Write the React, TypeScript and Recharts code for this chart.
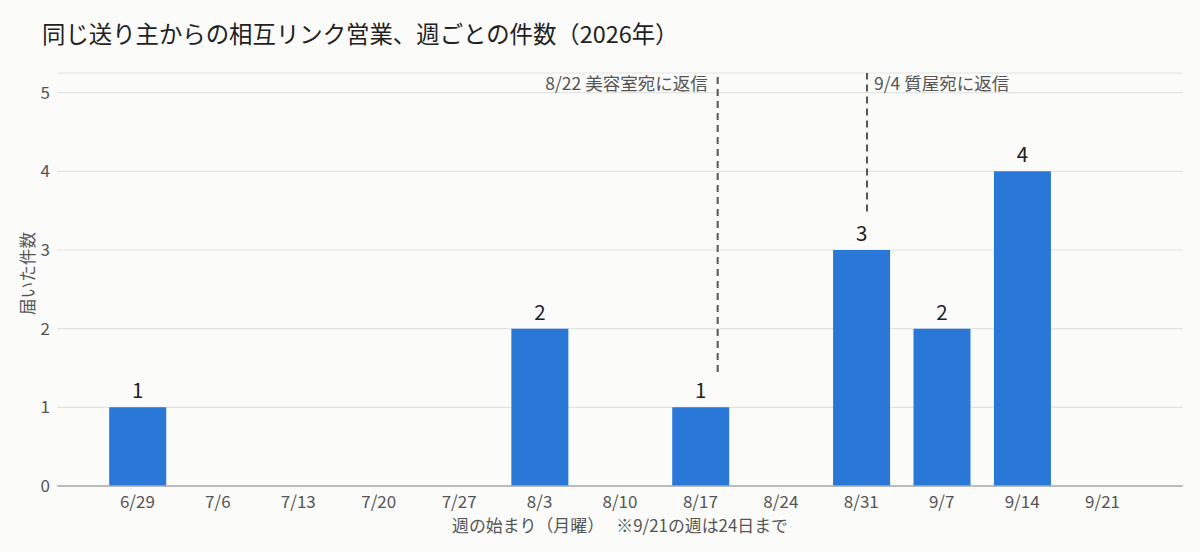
import React from 'react';
import { BarChart, Bar, XAxis, YAxis, CartesianGrid, LabelList, ReferenceLine } from 'recharts';

const weekLabels = ['6/29', '7/6', '7/13', '7/20', '7/27', '8/3', '8/10', '8/17', '8/24', '8/31', '9/7', '9/14', '9/21'];
const weekDays = [0, 7, 14, 21, 28, 35, 42, 49, 56, 63, 70, 77, 84];
const counts = [1, 0, 0, 0, 0, 2, 0, 1, 0, 3, 2, 4, 0];

const noteTexts = ['8/22 美容室宛に返信', '9/4 質屋宛に返信'];
const noteDays = [50.5, 63.5];
const noteBottoms = [1.45, 3.49];
const noteSides = ['left', 'right'];

const yTicks = [0, 1, 2, 3, 4, 5];
const Y_MAX = 5.25;

const TITLE = '同じ送り主からの相互リンク営業、週ごとの件数（2026年）';
const X_LABEL = '週の始まり（月曜）\u3000\u00A0※9/21の週は24日まで';
const Y_LABEL = '届いた件数';

const FONT = '"Noto Sans CJK JP", "Noto Sans", sans-serif';

const rows = weekLabels.map((w, i) => ({ week: w, day: weekDays[i], count: counts[i] }));

const labelForDay = (d: number) => {
  const i = weekDays.indexOf(d);
  return i >= 0 ? weekLabels[i] : '';
};

const ValueLabel = (props: any) => {
  const { x, y, width, value } = props;
  if (!value) return null;
  return (
    <text x={Number(x) + Number(width) / 2} y={Number(y) - 9} textAnchor="middle" fontSize={20.5} fill="#222" fontFamily={FONT}>
      {value}
    </text>
  );
};

const makeNoteLabel = (text: string, side: string) => (props: any) => {
  const vb = props.viewBox || {};
  const x = Number(vb.x);
  const y = Number(vb.y);
  return (
    <text
      x={side === 'left' ? x - 10 : x + 7}
      y={y + 17}
      textAnchor={side === 'left' ? 'end' : 'start'}
      fontSize={17.5}
      fill="#555"
      fontFamily={FONT}
    >
      {text}
    </text>
  );
};

const XAxisLabel = (props: any) => {
  const vb = props.viewBox || {};
  return (
    <text x={vb.x + vb.width / 2} y={vb.y + 46} textAnchor="middle" fontSize={16.9} fill="#555" fontFamily={FONT}>
      {X_LABEL}
    </text>
  );
};

const YAxisLabel = (props: any) => {
  const vb = props.viewBox || {};
  const cx = vb.x + 27;
  const cy = vb.y + vb.height / 2 - 6;
  return (
    <text
      x={cx}
      y={cy}
      transform={`rotate(-90 ${cx} ${cy})`}
      textAnchor="middle"
      dominantBaseline="central"
      fontSize={16.6}
      fill="#555"
      fontFamily={FONT}
    >
      {Y_LABEL}
    </text>
  );
};

export default function App() {
  return (
    <div
      style={{
        position: 'absolute',
        left: 0,
        top: 0,
        width: 1200,
        height: 552,
        background: '#fbfbf9',
        fontFamily: FONT,
        overflow: 'hidden',
      }}
    >
      <div
        style={{
          position: 'absolute',
          left: 42,
          top: 17,
          fontSize: 23.4,
          lineHeight: '32px',
          color: '#222',
          whiteSpace: 'nowrap',
        }}
      >
        {TITLE}
      </div>
      <BarChart width={1200} height={552} data={rows} margin={{ top: 73, right: 17, bottom: 16, left: 0 }}>
        <CartesianGrid vertical={false} stroke="#e3e3e3" strokeWidth={1.2} />
        <XAxis
          type="number"
          dataKey="day"
          domain={[-7, 91]}
          ticks={weekDays}
          interval={0}
          tickFormatter={labelForDay}
          height={50}
          tickLine={false}
          tickSize={0}
          tickMargin={10}
          axisLine={{ stroke: '#aaaaaa', strokeWidth: 1.5 }}
          tick={{ fill: '#555', fontSize: 17, fontFamily: FONT }}
          label={{ content: XAxisLabel }}
        />
        <YAxis
          type="number"
          domain={[0, Y_MAX]}
          ticks={yTicks}
          allowDataOverflow
          width={57}
          axisLine={false}
          tickLine={false}
          tickSize={0}
          tickMargin={7}
          tick={{ fill: '#555', fontSize: 17, fontFamily: FONT }}
          label={{ content: YAxisLabel }}
        />
        <Bar dataKey="count" fill="#2977d6" barSize={57} isAnimationActive={false}>
          <LabelList dataKey="count" content={ValueLabel} />
        </Bar>
        {noteTexts.map((t, i) => (
          <ReferenceLine
            key={t}
            segment={[
              { x: noteDays[i], y: noteBottoms[i] },
              { x: noteDays[i], y: Y_MAX },
            ]}
            stroke="#555"
            strokeWidth={2}
            strokeDasharray="7 5"
            label={{ content: makeNoteLabel(t, noteSides[i]) }}
          />
        ))}
      </BarChart>
    </div>
  );
}
